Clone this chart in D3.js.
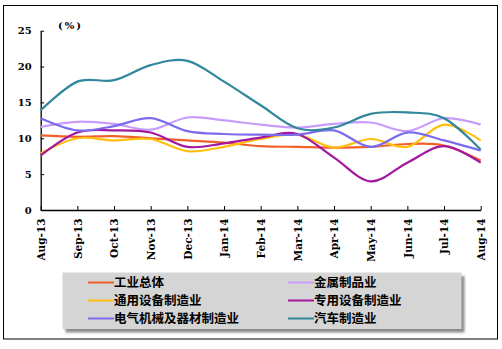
<!DOCTYPE html>
<html>
<head>
<meta charset="utf-8">
<script src="https://cdn.jsdelivr.net/npm/d3@7"></script>
<style>
  html, body { margin: 0; padding: 0; background: #fff; }
  svg { display: block; }
</style>
</head>
<body>
<svg id="chart" width="502" height="349"></svg>
<script>
// Monthly growth rates (%), Aug 2013 – Aug 2014
const months = ["Aug-13","Sep-13","Oct-13","Nov-13","Dec-13","Jan-14","Feb-14","Mar-14","Apr-14","May-14","Jun-14","Jul-14","Aug-14"];
const yTicks = [0, 5, 10, 15, 20, 25];

const seriesNames = ["工业总体","金属制品业","通用设备制造业","专用设备制造业","电气机械及器材制造业","汽车制造业"];
const seriesColors = ["#f2602a","#c79cfb","#ffbf10","#a3179f","#7b6cee","#31879b"];

const industryTotal   = [10.4,10.2,10.3,10.0,9.7,9.4,8.9,8.8,8.7,8.8,9.2,9.0,6.9];
const metalProducts   = [11.6,12.3,12.0,11.2,12.9,12.5,11.9,11.5,12.0,12.2,11.0,12.8,11.9];
const generalEquip    = [7.9,10.0,9.7,9.9,8.2,8.8,9.9,10.5,8.7,9.9,8.8,11.9,9.7];
const specialEquip    = [7.6,10.8,11.1,10.8,8.8,9.3,10.1,10.6,7.3,4.0,6.6,8.9,6.6];
const electricalMach  = [12.8,11.1,11.7,12.8,11.0,10.6,10.5,10.5,11.1,8.8,10.8,9.7,8.3];
const automobile      = [13.9,17.9,18.1,20.2,20.8,17.9,14.6,11.4,11.5,13.4,13.6,12.8,8.4];

const seriesValues = [industryTotal, metalProducts, generalEquip, specialEquip, electricalMach, automobile];

const svg = d3.select("#chart");
const W = 502, H = 349;

svg.append("rect").attr("width", W).attr("height", H).attr("fill", "#fff");
// outer frame
svg.append("rect").attr("x", 3.5).attr("y", 5.5).attr("width", 494).attr("height", 333.5)
  .attr("fill", "none").attr("stroke", "#000").attr("stroke-width", 1);

const plot = { left: 40.7, right: 480.7, top: 30.7, bottom: 210 };

const x = d3.scalePoint().domain(months).range([plot.left, plot.right]);
const y = d3.scaleLinear().domain([0, 25]).range([plot.bottom, plot.top]);

const axisFont = "'DejaVu Serif', 'Liberation Serif', serif";

// y axis
const yAxis = d3.axisLeft(y).tickValues(yTicks).tickSizeInner(-3.5).tickSizeOuter(0).tickFormat(d3.format("d"));
const gy = svg.append("g").attr("transform", `translate(${plot.left},0)`).call(yAxis);
gy.select(".domain").attr("stroke", "#000").attr("stroke-width", 1.3);
gy.selectAll(".tick line").attr("stroke", "#000");
gy.selectAll(".tick text")
  .attr("x", -9)
  .attr("font-family", axisFont).attr("font-weight", "bold").attr("font-size", 10)
  .attr("fill", "#000");

// x axis
const xAxis = d3.axisBottom(x).tickSizeInner(-4).tickSizeOuter(0);
const gx = svg.append("g").attr("transform", `translate(0,${plot.bottom})`).call(xAxis);
gx.select(".domain").attr("stroke", "#000").attr("stroke-width", 1.3);
gx.selectAll(".tick line").attr("stroke", "#000");
gx.selectAll(".tick text")
  .attr("font-family", axisFont).attr("font-weight", "bold").attr("font-size", 10.5)
  .attr("fill", "#000")
  .attr("text-anchor", "end")
  .attr("dy", "0.35em")
  .attr("transform", "rotate(-90)")
  .attr("x", -8.5).attr("y", 0);

// unit label
svg.append("text").attr("x", 58).attr("y", 29)
  .attr("font-family", axisFont).attr("font-weight", "bold").attr("font-size", 10)
  .attr("letter-spacing", 2)
  .text("(%)");

// smoothed series lines
const line = d3.line()
  .x((d, i) => x(months[i]))
  .y(d => y(d))
  .curve(d3.curveCardinal.tension(0));

seriesValues.forEach((vals, k) => {
  svg.append("path")
    .datum(vals)
    .attr("d", line)
    .attr("fill", "none")
    .attr("stroke", seriesColors[k])
    .attr("stroke-width", 2.2)
    .attr("stroke-linejoin", "round");
});

// legend
const defs = svg.append("defs");
defs.append("filter").attr("id", "legendShadow").attr("x", "-5%").attr("y", "-20%").attr("width", "110%").attr("height", "140%")
  .append("feGaussianBlur").attr("stdDeviation", 1.3);

const lg = { x: 62.5, y: 272.5, w: 399, h: 56.5 };
svg.append("rect").attr("x", lg.x + 3).attr("y", lg.y + 3.5).attr("width", lg.w).attr("height", lg.h)
  .attr("fill", "#8c8c8c").attr("filter", "url(#legendShadow)");
svg.append("rect").attr("x", lg.x).attr("y", lg.y).attr("width", lg.w).attr("height", lg.h)
  .attr("fill", "#d5d5d5");

const colX = [88, 288];
const rowY = [282.5, 300.5, 318.5];
seriesNames.forEach((name, k) => {
  const cx = colX[k % 2], cy = rowY[Math.floor(k / 2)];
  svg.append("line").attr("x1", cx).attr("x2", cx + 26).attr("y1", cy).attr("y2", cy)
    .attr("stroke", seriesColors[k]).attr("stroke-width", 2);
  svg.append("text").attr("x", cx + 26).attr("y", cy).attr("dy", "0.36em")
    .attr("font-family", "'Noto Sans CJK SC', sans-serif").attr("font-weight", "bold").attr("font-size", 12.5)
    .attr("fill", "#000")
    .text(name);
});
</script>
</body>
</html>
